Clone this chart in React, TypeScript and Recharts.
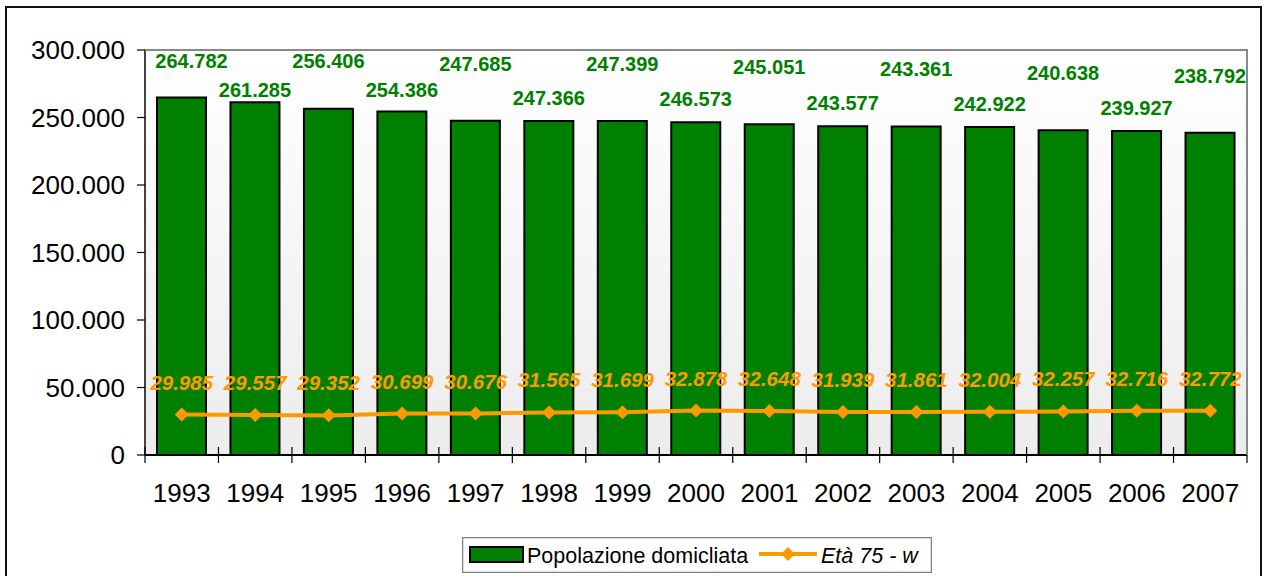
import React from 'react';
import {
  ComposedChart,
  Bar,
  Line,
  XAxis,
  YAxis,
  CartesianGrid,
  LabelList,
  Legend,
} from 'recharts';

const years = ['1993', '1994', '1995', '1996', '1997', '1998', '1999', '2000', '2001', '2002', '2003', '2004', '2005', '2006', '2007'];
const popolazione = [264782, 261285, 256406, 254386, 247685, 247366, 247399, 246573, 245051, 243577, 243361, 242922, 240638, 239927, 238792];
const eta75 = [29985, 29557, 29352, 30699, 30676, 31565, 31699, 32878, 32648, 31939, 31861, 32004, 32257, 32716, 32772];
const yTicks = [0, 50000, 100000, 150000, 200000, 250000, 300000];

const data = years.map((y, i) => ({ year: y, pop: popolazione[i], old: eta75[i] }));

const W = 1269;
const H = 576;
const PLOT_LEFT = 145;
const PLOT_RIGHT = 1247;
const PLOT_TOP = 50;
const PLOT_BOTTOM = 455;
const BAND = (PLOT_RIGHT - PLOT_LEFT) / years.length;

const GREEN = '#008000';
const ORANGE = '#FF9900';
const FONT = '"Liberation Sans", Arial, sans-serif';

const fmt = (v: any) => String(v).replace(/\B(?=(\d{3})+(?!\d))/g, '.');

const diamond = (cx: number, cy: number, r: number) =>
  `M${cx},${cy - r} L${cx + r},${cy} L${cx},${cy + r} L${cx - r},${cy} Z`;

const XTick = (props: any) => {
  const { x, y, payload } = props;
  const isLast = payload.value === years[years.length - 1];
  return (
    <g>
      <text x={x} y={y + 47} textAnchor="middle" fontSize={26} fill="#000" fontFamily={FONT}>
        {payload.value}
      </text>
      <line x1={x - BAND / 2} x2={x - BAND / 2} y1={y - 8} y2={y + 8} stroke="#000" strokeWidth={1.2} />
      {isLast && (
        <line x1={x + BAND / 2} x2={x + BAND / 2} y1={y - 8} y2={y + 8} stroke="#000" strokeWidth={1.2} />
      )}
    </g>
  );
};

const BarLabel = (props: any) => {
  const { x, y, width, value, index } = props;
  const top = Number(y);
  const base = index % 2 === 0 ? Math.max(top - 50, PLOT_TOP + 18) : Math.max(top - 16, PLOT_TOP + 47);
  const shift = index === 0 ? 10 : 0;
  return (
    <text
      x={Number(x) + Number(width) / 2 + shift}
      y={base}
      textAnchor="middle"
      fontSize={20}
      fontWeight="bold"
      fill={GREEN}
      fontFamily={FONT}
    >
      {fmt(value)}
    </text>
  );
};

const LineLabel = (props: any) => {
  const { x, y, value } = props;
  return (
    <text
      x={Number(x)}
      y={Number(y) - 25}
      textAnchor="middle"
      fontSize={20.5}
      fontWeight="bold"
      fontStyle="italic"
      fill={ORANGE}
      fontFamily={FONT}
    >
      {fmt(value)}
    </text>
  );
};

const Dot = (props: any) => {
  const { cx, cy, index } = props;
  if (cx == null || cy == null) return <g key={`d${index}`} />;
  return <path key={`d${index}`} d={diamond(cx, cy, 7)} fill={ORANGE} />;
};

const LegendBox = () => (
  <svg width={470} height={36} style={{ display: 'block' }}>
    <rect x={0.5} y={0.5} width={469} height={35} fill="#fff" stroke="#808080" strokeWidth={1.5} />
    <rect x={8} y={10} width={53} height={15} fill={GREEN} stroke="#000" strokeWidth={2} />
    <text x={65} y={26} fontSize={21.5} fill="#000" fontFamily={FONT}>
      Popolazione domicliata
    </text>
    <line x1={297} x2={355} y1={17} y2={17} stroke={ORANGE} strokeWidth={4} />
    <path d={diamond(326, 17, 7)} fill={ORANGE} />
    <text x={359} y={26} fontSize={21.5} fontStyle="italic" fill="#000" fontFamily={FONT}>
      Età 75 - w
    </text>
  </svg>
);

export default function App() {
  return (
    <div
      style={{
        position: 'absolute',
        left: 0,
        top: 0,
        width: W,
        height: H,
        overflow: 'hidden',
        background: '#fff',
        fontFamily: FONT,
      }}
    >
      <div
        style={{
          position: 'absolute',
          left: 5,
          top: 6,
          width: 1257,
          height: 600,
          border: '2px solid #111',
          boxSizing: 'border-box',
        }}
      />
      <div style={{ position: 'absolute', left: 0, top: 0 }}>
        <ComposedChart
          width={W}
          height={H}
          data={data}
          margin={{ top: PLOT_TOP, right: W - PLOT_RIGHT, bottom: H - PLOT_BOTTOM - 30, left: 0 }}
        >
          <defs>
            <linearGradient id="plotBg" x1="0" y1="0" x2="0" y2="1">
              <stop offset="0%" stopColor="#ffffff" />
              <stop offset="100%" stopColor="#ececec" />
            </linearGradient>
          </defs>
          <CartesianGrid horizontal={false} vertical={false} fill="url(#plotBg)" />
          <XAxis
            dataKey="year"
            height={30}
            tickSize={0}
            tickMargin={0}
            tickLine={false}
            axisLine={{ stroke: '#000', strokeWidth: 2 }}
            tick={<XTick />}
            interval={0}
          />
          <YAxis
            width={PLOT_LEFT}
            domain={[0, 300000]}
            ticks={yTicks}
            tickFormatter={fmt}
            tickSize={8}
            tickMargin={12}
            tick={{ fontSize: 26, fill: '#000' }}
            tickLine={{ stroke: '#000', strokeWidth: 1.2 }}
            axisLine={{ stroke: '#444', strokeWidth: 2 }}
            allowDataOverflow
          />
          <Legend
            layout="horizontal"
            verticalAlign="middle"
            align="center"
            content={() => <LegendBox />}
            wrapperStyle={{ left: 462, top: 537, width: 470, height: 36 }}
          />
          <Bar dataKey="pop" name="Popolazione domicliata" fill={GREEN} stroke="#000" strokeWidth={2} barSize={49} isAnimationActive={false}>
            <LabelList dataKey="pop" content={<BarLabel />} />
          </Bar>
          <Line
            dataKey="old"
            name="Età 75 - w"
            type="linear"
            stroke={ORANGE}
            strokeWidth={4}
            dot={Dot}
            activeDot={false}
            isAnimationActive={false}
          >
            <LabelList dataKey="old" content={<LineLabel />} />
          </Line>
        </ComposedChart>
      </div>
      <div
        style={{
          position: 'absolute',
          left: PLOT_LEFT,
          top: PLOT_TOP - 1,
          width: PLOT_RIGHT - PLOT_LEFT + 1,
          height: PLOT_BOTTOM - PLOT_TOP + 1,
          borderTop: '2px solid #888',
          borderRight: '2px solid #888',
          boxSizing: 'border-box',
          pointerEvents: 'none',
        }}
      />
    </div>
  );
}
